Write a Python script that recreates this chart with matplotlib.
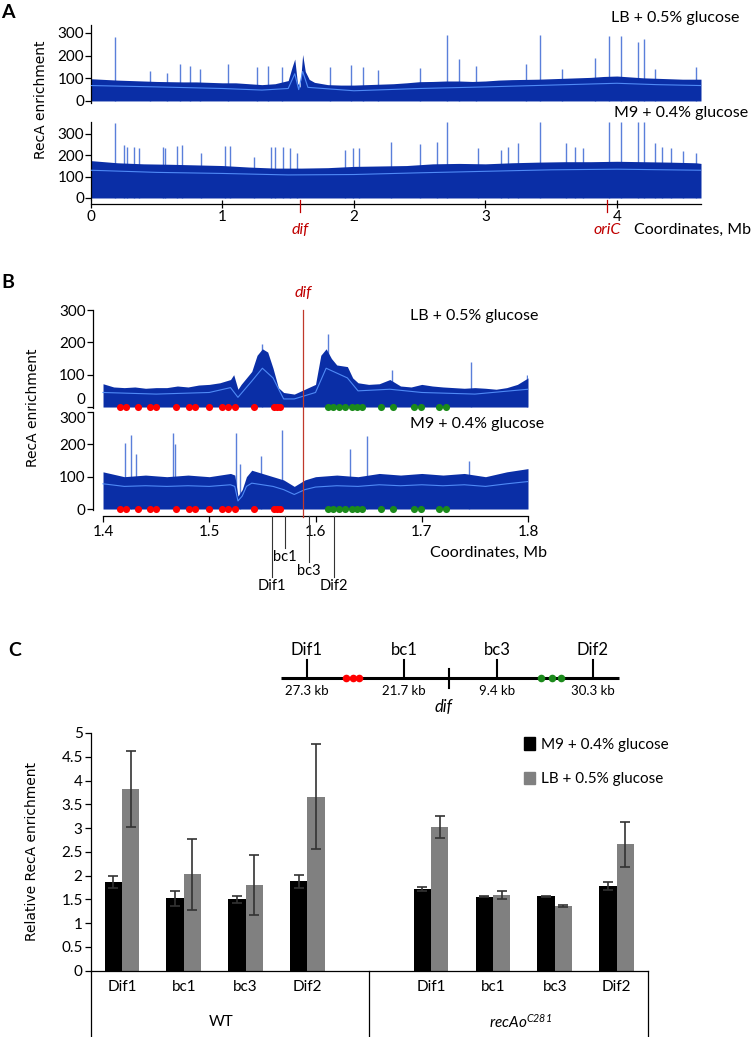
import matplotlib.pyplot as plt
from matplotlib.patches import Patch
from matplotlib.transforms import blended_transform_factory as blend

plt.rcParams['font.family'] = ['Lato', 'DejaVu Sans']
plt.rcParams['mathtext.fontset'] = 'custom'
plt.rcParams['mathtext.it'] = 'Lato:italic'
plt.rcParams['mathtext.rm'] = 'Lato:italic'

W, H = 751, 1037
DARK = '#0a2ea6'
LIGHT = '#4f8af6'
SPIKE = '#5a7fda'

# ---------------- panel A: whole chromosome, positions in Mb ----------------
a_lb_pos = [0.0, 0.1, 0.2, 0.3, 0.4, 0.5, 0.6, 0.7, 0.8, 0.9, 1.0, 1.1, 1.2, 1.3, 1.4, 1.5,
            1.53, 1.55, 1.57, 1.59, 1.61, 1.63, 1.66,
            1.7, 1.8, 1.9, 2.0, 2.1, 2.2, 2.3, 2.4, 2.5, 2.6, 2.7, 2.8, 2.9, 3.0, 3.1, 3.2,
            3.3, 3.4, 3.5, 3.6, 3.7, 3.8, 3.9, 4.0, 4.1, 4.2, 4.3, 4.4, 4.5, 4.64]
a_lb_env = [98, 95, 92, 90, 88, 86, 85, 84, 84, 82, 80, 80, 76, 72, 76, 90,
            150, 185, 80, 60, 205, 130, 95,
            82, 72, 70, 70, 72, 74, 76, 80, 85, 86, 88, 88, 86, 88, 92, 94,
            95, 96, 98, 100, 102, 104, 108, 110, 106, 102, 100, 98, 96, 96]
a_lb_mean_pos = [0.0, 0.5, 1.0, 1.3, 1.5, 1.55, 1.58, 1.61, 1.65, 2.0, 2.5, 3.0, 3.5, 4.0, 4.3, 4.64]
a_lb_mean = [68, 62, 55, 48, 55, 120, 50, 130, 60, 45, 55, 62, 70, 78, 72, 68]
a_lb_spike_pos = [0.186, 0.445, 0.58, 0.675, 0.755, 0.83, 1.04, 1.26, 1.35, 1.45, 1.82, 1.98,
                  2.07, 2.18, 2.506, 2.707, 2.80, 2.93, 3.31, 3.415, 3.58, 3.83, 3.94, 4.03,
                  4.16, 4.21, 4.29, 4.60]
a_lb_spike_h = [280, 130, 125, 165, 155, 140, 165, 150, 155, 150, 150, 160,
                150, 135, 145, 290, 185, 155, 165, 293, 140, 190, 285, 287,
                260, 272, 143, 150]

a_m9_pos = [0.0, 0.2, 0.4, 0.6, 0.8, 1.0, 1.2, 1.4, 1.6, 1.8, 2.0, 2.2, 2.4, 2.6, 2.8,
            3.0, 3.2, 3.4, 3.6, 3.8, 4.0, 4.2, 4.4, 4.6, 4.64]
a_m9_env = [175, 165, 160, 158, 155, 152, 145, 140, 140, 142, 148, 150, 152, 160, 162,
            160, 165, 168, 170, 170, 172, 170, 168, 165, 162]
a_m9_mean_pos = [0.0, 0.5, 1.0, 1.5, 2.0, 2.5, 3.0, 3.5, 4.0, 4.64]
a_m9_mean = [130, 120, 115, 108, 110, 118, 125, 132, 135, 130]
a_m9_spike_pos = [0.186, 0.248, 0.274, 0.328, 0.365, 0.547, 0.566, 0.657, 0.693, 0.84,
                  1.02, 1.06, 1.24, 1.37, 1.40, 1.46, 1.51, 1.57, 1.93, 1.99, 2.04, 2.28,
                  2.506, 2.63, 2.707, 2.94, 3.12, 3.17, 3.25, 3.415, 3.61, 3.68, 3.74, 3.94,
                  4.03, 4.16, 4.21, 4.29, 4.34, 4.41, 4.50, 4.60]
a_m9_spike_h = [350, 249, 241, 241, 233, 241, 233, 244, 249, 210,
                245, 245, 194, 241, 241, 241, 233, 210, 225, 233, 233, 260,
                253, 260, 357, 233, 225, 241, 256, 357, 256, 241, 233, 357,
                357, 357, 357, 256, 241, 233, 218, 210]
a_ticks = [0, 1, 2, 3, 4]
dif_mb = 1.588
oric_mb = 3.923

# ---------------- panel B: region around dif ----------------
b_lb_pos = [1.40, 1.41, 1.42, 1.43, 1.44, 1.45, 1.46, 1.47, 1.48, 1.49, 1.50, 1.51, 1.52,
            1.523, 1.527, 1.53, 1.535, 1.54, 1.545, 1.55, 1.555, 1.56, 1.565, 1.57, 1.58,
            1.59, 1.60, 1.605, 1.61, 1.615, 1.62, 1.63, 1.635, 1.64, 1.65, 1.66, 1.67,
            1.68, 1.69, 1.70, 1.71, 1.72, 1.73, 1.74, 1.75, 1.76, 1.77, 1.78, 1.79, 1.80]
b_lb_env = [72, 62, 60, 62, 58, 60, 60, 65, 62, 68, 70, 75, 85,
            100, 55, 70, 90, 110, 160, 180, 170, 120, 60, 45, 40,
            55, 70, 160, 180, 150, 130, 125, 90, 75, 70, 72, 85,
            65, 62, 70, 65, 62, 60, 58, 60, 58, 55, 60, 70, 90]
b_lb_mean_pos = [1.40, 1.45, 1.50, 1.52, 1.527, 1.54, 1.55, 1.56, 1.57, 1.58, 1.60, 1.61,
                 1.63, 1.64, 1.67, 1.70, 1.75, 1.80]
b_lb_mean = [45, 40, 45, 60, 30, 80, 120, 90, 25, 25, 45, 120, 90, 50, 55, 45, 40, 55]
b_lb_spike_pos = [1.55, 1.612, 1.672, 1.746, 1.799]
b_lb_spike_h = [195, 225, 115, 140, 100]

b_m9_pos = [1.40, 1.42, 1.44, 1.46, 1.48, 1.50, 1.52, 1.524, 1.527, 1.531, 1.535, 1.54,
            1.56, 1.57, 1.58, 1.59, 1.60, 1.62, 1.64, 1.66, 1.68, 1.70, 1.72, 1.74, 1.76,
            1.78, 1.80]
b_m9_env = [115, 100, 105, 100, 105, 100, 110, 105, 40, 60, 100, 120,
            100, 90, 70, 90, 100, 105, 100, 110, 105, 110, 105, 110, 100,
            115, 125]
b_m9_mean = [78, 70, 72, 70, 72, 70, 75, 70, 25, 40, 70, 80,
             70, 60, 45, 60, 68, 72, 70, 75, 72, 75, 72, 75, 70,
             78, 85]
b_m9_spike_pos = [1.421, 1.426, 1.431, 1.4655, 1.468, 1.5256, 1.529, 1.549, 1.5686,
                  1.6328, 1.6486, 1.744]
b_m9_spike_h = [204, 230, 170, 235, 200, 235, 140, 165, 243, 186, 227, 150]
b_ticks = [1.4, 1.5, 1.6, 1.7, 1.8]

red_sites = [1.4158, 1.4212, 1.4325, 1.4438, 1.4502, 1.4687, 1.4805, 1.4868, 1.4994,
             1.5121, 1.518, 1.5238, 1.5424, 1.5614, 1.5640, 1.5663]
green_sites = [1.6115, 1.6169, 1.6224, 1.6282, 1.6341, 1.6395, 1.644, 1.6612, 1.6734,
               1.6924, 1.6991, 1.7163, 1.7232]
probe_names = ['Dif1', 'bc1', 'bc3', 'Dif2']
probe_pos = [1.5590, 1.5713, 1.5938, 1.6175]

# ---------------- panel C: qPCR ----------------
sites = ['Dif1', 'bc1', 'bc3', 'Dif2']
site_kb = ['27.3 kb', '21.7 kb', '9.4 kb', '30.3 kb']
strains = ['WT', 'recAo$^{C281}$']
wt_m9 = [1.87, 1.52, 1.50, 1.88]
wt_m9_err = [0.13, 0.16, 0.08, 0.14]
wt_lb = [3.83, 2.03, 1.81, 3.66]
wt_lb_err = [0.80, 0.75, 0.63, 1.10]
rec_m9 = [1.72, 1.56, 1.57, 1.78]
rec_m9_err = [0.05, 0.02, 0.01, 0.09]
rec_lb = [3.03, 1.59, 1.37, 2.66]
rec_lb_err = [0.23, 0.09, 0.02, 0.47]


def box(l, t, r, b):
    return [l / W, 1 - b / H, (r - l) / W, (b - t) / H]


def track(ax, pos, env, mpos, mean, spos, sh):
    ax.vlines(spos, 0, sh, color=SPIKE, lw=1.0, zorder=1)
    ax.fill_between(pos, 0, env, color=DARK, lw=0, zorder=2)
    ax.plot(mpos, mean, color=LIGHT, lw=0.8, zorder=3)
    for s in ['top', 'right']:
        ax.spines[s].set_visible(False)
    ax.spines['left'].set_linewidth(0.9)
    ax.tick_params(axis='y', direction='out', length=4, width=0.9, labelsize=11, pad=1)
    ax.set_yticks([0, 100, 200, 300])


fig = plt.figure(figsize=(W / 100, H / 100), dpi=100)

# --- A
axA1 = fig.add_axes(box(91, 25, 701, 103))
track(axA1, a_lb_pos, a_lb_env, a_lb_mean_pos, a_lb_mean, a_lb_spike_pos, a_lb_spike_h)
axA1.set_xlim(0, 4.64)
axA1.set_ylim(-9, 335)
axA1.spines['bottom'].set_visible(False)
axA1.set_xticks([])

axA2 = fig.add_axes(box(91, 122, 701, 200))
track(axA2, a_m9_pos, a_m9_env, a_m9_mean_pos, a_m9_mean, a_m9_spike_pos, a_m9_spike_h)
axA2.set_xlim(0, 4.64)
axA2.set_ylim(-9.4, 356)
axA2.spines['bottom'].set_position(('outward', 3))
axA2.spines['bottom'].set_linewidth(0.9)
axA2.set_xticks(a_ticks)
axA2.tick_params(axis='x', direction='inout', length=6, width=0.9, labelsize=11, pad=1)

# --- B
axB1 = fig.add_axes(box(92.5, 310, 528, 408))
track(axB1, b_lb_pos, b_lb_env, b_lb_mean_pos, b_lb_mean, b_lb_spike_pos, b_lb_spike_h)
axB1.set_xlim(1.3901, 1.8)
axB1.set_ylim(-3, 300)
axB1.spines['bottom'].set_visible(False)
axB1.set_xticks([])
axB1.get_yticklabels()[0].set_va('bottom')

axB2 = fig.add_axes(box(92.5, 412, 528, 510))
track(axB2, b_m9_pos, b_m9_env, b_m9_pos, b_m9_mean, b_m9_spike_pos, b_m9_spike_h)
axB2.set_xlim(1.3901, 1.8)
axB2.set_ylim(-3, 300)
axB2.spines['bottom'].set_position(('outward', 4.5))
axB2.spines['bottom'].set_bounds(1.4, 1.8)
axB2.spines['bottom'].set_linewidth(0.9)
axB2.set_xticks(b_ticks)
axB2.set_xticklabels(['1.4', '1.5', '1.6', '1.7', '1.8'])
axB2.tick_params(axis='x', direction='out', length=4, width=0.9, labelsize=11, pad=2)
axB2.get_yticklabels()[-1].set_va('top')

for axb in (axB1, axB2):
    axb.scatter(red_sites, [0] * len(red_sites), s=26, color='#ff0000', lw=0, zorder=5, clip_on=False)
    axb.scatter(green_sites, [0] * len(green_sites), s=26, color='#1b8a1b', lw=0, zorder=5, clip_on=False)

# --- C bar chart
axC = fig.add_axes(box(91, 733, 647.5, 970.7))
wt_x = [0.5, 1.5, 2.5, 3.5]
rec_x = [5.5, 6.5, 7.5, 8.5]
bw = 0.28
ekw = dict(ecolor='#333333', elinewidth=1.2, capsize=3.5, capthick=1.2)
axC.bar([x - bw / 2 for x in wt_x], wt_m9, bw, color='black', yerr=wt_m9_err, error_kw=ekw, zorder=2)
axC.bar([x + bw / 2 for x in wt_x], wt_lb, bw, color='#808080', yerr=wt_lb_err, error_kw=ekw, zorder=2)
axC.bar([x - bw / 2 for x in rec_x], rec_m9, bw, color='black', yerr=rec_m9_err, error_kw=ekw, zorder=2)
axC.bar([x + bw / 2 for x in rec_x], rec_lb, bw, color='#808080', yerr=rec_lb_err, error_kw=ekw, zorder=2)
axC.set_xlim(0, 9)
axC.set_ylim(0, 5)
axC.set_yticks([i * 0.5 for i in range(11)])
axC.set_yticklabels(['0', '0.5', '1', '1.5', '2', '2.5', '3', '3.5', '4', '4.5', '5'])
axC.set_xticks(wt_x + rec_x)
axC.set_xticklabels(sites + sites)
axC.tick_params(axis='y', direction='out', length=4, width=0.9, labelsize=11, pad=2)
axC.tick_params(axis='x', length=0, labelsize=11, pad=7)
for s in ['top', 'right']:
    axC.spines[s].set_visible(False)
for s in ['left', 'bottom']:
    axC.spines[s].set_linewidth(0.9)
axC.set_ylabel('Relative RecA enrichment', family=['DejaVu Sans'], fontsize=10, labelpad=16)
for xs in [0, 4.5, 9]:
    axC.plot([xs, xs], [0, -1.42], color='black', lw=0.9, clip_on=False)
axC.text(2.1, -1.08, strains[0], ha='center', va='center', fontsize=11)
axC.text(6.95, -1.08, strains[1], ha='center', va='center', fontsize=11, style='italic')
fig.legend(handles=[Patch(color='black', label='M9 + 0.4% glucose'),
                    Patch(color='#808080', label='LB + 0.5% glucose')],
           loc='upper left', bbox_to_anchor=(518 / W, 1 - 731 / H), frameon=False,
           fontsize=11, handlelength=0.7, handleheight=0.9, handletextpad=0.4,
           labelspacing=1.3, borderaxespad=0)

# --- overlay in pixel coordinates for labels and the schematic
axo = fig.add_axes([0, 0, 1, 1])
axo.set_xlim(0, W)
axo.set_ylim(H, 0)
axo.axis('off')

for letter, x, y in [('A', 1, 13), ('B', 1, 283), ('C', 8, 650)]:
    axo.text(x, y, letter, fontsize=14, fontweight='bold', va='center', ha='left')

axo.text(739, 18, 'LB + 0.5% glucose', ha='right', va='center', fontsize=11.5)
axo.text(748, 113, 'M9 + 0.4% glucose', ha='right', va='center', fontsize=11.5)
axo.text(751, 230, 'Coordinates, Mb', ha='right', va='center', fontsize=11.5)
axo.text(41, 100, 'RecA enrichment', rotation=90, ha='center', va='center',
         family=['DejaVu Sans'], fontsize=10)

tA = blend(axA2.transData, axo.transData)
for mb, name in [(dif_mb, 'dif'), (oric_mb, 'oriC')]:
    axo.plot([mb, mb], [200, 212], color='#c00000', lw=0.9, transform=tA)
    axo.text(mb, 230, name, color='#c00000', style='italic', ha='center', va='center',
             fontsize=11.5, transform=tA)

axo.text(410, 316, 'LB + 0.5% glucose', ha='left', va='center', fontsize=11.5)
axo.text(410, 424, 'M9 + 0.4% glucose', ha='left', va='center', fontsize=11.5)
axo.text(547, 553, 'Coordinates, Mb', ha='right', va='center', fontsize=11.5)
axo.text(33, 408, 'RecA enrichment', rotation=90, ha='center', va='center',
         family=['DejaVu Sans'], fontsize=10)

tB = blend(axB2.transData, axo.transData)
axo.plot([dif_mb, dif_mb], [310, 517], color='#c0392b', lw=0.9, transform=tB)
axo.text(dif_mb, 293, 'dif', color='#c00000', style='italic', ha='center', va='center',
         fontsize=11.5, transform=tB)
probe_end = [577, 548, 562, 577]
for name, mb, yend in zip(probe_names, probe_pos, probe_end):
    axo.plot([mb, mb], [516, yend], color='#333333', lw=0.8, transform=tB)
    axo.text(mb, yend + 2, name, ha='center', va='top', fontsize=10.5, transform=tB)

# schematic of panel C
axo.plot([281, 619], [678, 678], color='black', lw=2.2, solid_capstyle='butt')
for name, x, kb in zip(sites, [307, 404, 497, 593], site_kb):
    axo.plot([x, x], [660, 678], color='black', lw=1.5)
    axo.text(x, 650, name, ha='center', va='center', fontsize=12)
    axo.text(x, 691, kb, ha='center', va='center', fontsize=9.5)
axo.plot([449, 449], [669, 688], color='black', lw=1.5)
axo.text(444, 707, 'dif', ha='center', va='center', style='italic', fontsize=12)
axo.scatter([346, 352.5, 359], [678] * 3, s=30, color='#ff0000', lw=0, zorder=5)
axo.scatter([540.5, 551.5, 561], [678] * 3, s=30, color='#1b8a1b', lw=0, zorder=5)

fig.savefig('out.png', dpi=100)
